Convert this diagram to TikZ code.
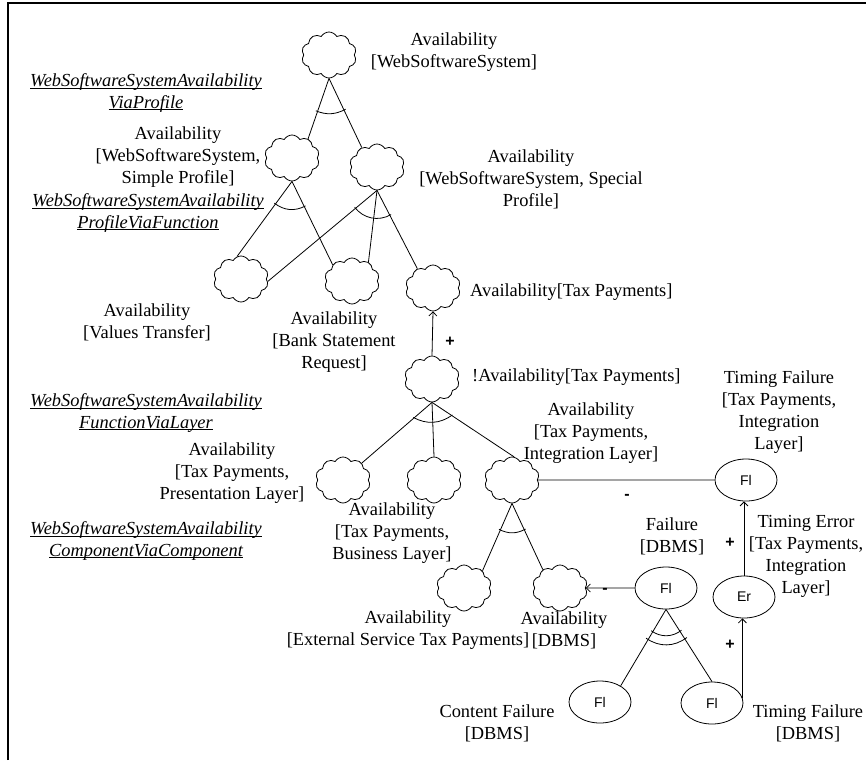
\documentclass[tikz,border=0pt]{standalone}
\usepackage{fontspec}
\setmainfont{Liberation Serif}
\newfontfamily\arialf{Liberation Sans}
\usetikzlibrary{shapes.symbols,shapes.geometric,arrows.meta,calc}
\newcommand\ulnm[1]{\underline{\raisebox{0pt}[\height][0pt]{#1}}}
\tikzset{
  goal/.style={cloud, draw, cloud puffs=10, cloud puff arc=120, cloud ignores aspect,
    minimum width=55pt, minimum height=46pt, inner sep=0pt, line width=0.8pt},
  fl/.style={ellipse, draw, minimum width=62pt, minimum height=42pt, inner sep=0pt,
    line width=0.8pt, font=\arialf\fontsize{14}{16}\selectfont},
  lbl/.style={align=center, inner sep=0pt, font=\fontsize{18.4}{22}\selectfont},
  ilbl/.style={align=center, inner sep=0pt, font=\itshape\fontsize{18.4}{21.5}\selectfont},
  sgn/.style={inner sep=0pt, font=\arialf\bfseries\fontsize{16}{16}\selectfont},
  conn/.style={line width=0.8pt},
  arr/.style={conn, -{Straight Barb[length=4pt,width=8pt]}},
  frame/.style={line width=1.3pt}
}
\begin{document}
\begin{tikzpicture}[x=1pt,y=1pt]
\useasboundingbox (0,0) rectangle (866,-760);
\draw[frame] (8,-760) -- (8,-3) -- (866,-3);

% clouds (softgoals)
\node[goal] (c1) at (329,-55) {};
\node[goal] (c2) at (292,-158) {};
\node[goal] (c3) at (377,-167) {};
\node[goal] (c4) at (241,-279) {};
\node[goal] (c5) at (352,-281) {};
\node[goal] (c6) at (433,-288) {};
\node[goal] (c7) at (432,-379) {};
\node[goal] (c8) at (343,-480) {};
\node[goal] (c9) at (434,-480) {};
\node[goal] (c10) at (512,-480) {};
\node[goal] (c11) at (464,-588) {};
\node[goal] (c12) at (560,-588) {};

% ellipses
\node[fl] (e1) at (746,-480) {Fl};
\node[fl] (e2) at (744,-597) {Er};
\node[fl] (e3) at (666,-588) {Fl};
\node[fl] (e4) at (600,-702) {Fl};
\node[fl] (e5) at (712,-703) {Fl};

% decomposition c1
\draw[conn] (c1.south) -- (c2.50);
\draw[conn] (c1.south) -- (c3.128);
\draw[conn] ($(c1.south)!35pt!-3:(c2.50)$) to[bend right=25] ($(c1.south)!35pt!3:(c3.128)$);
% decomposition c2
\draw[conn] (c2.south) -- (c4.100);
\draw[conn] (c2.south) -- (c5.140);
\draw[conn] ($(c2.south)!28pt!-3:(c4.100)$) to[bend right=33] ($(c2.south)!28pt!3:(c5.140)$);
% decomposition c3
\draw[conn] (c3.south) -- (c4.-5);
\draw[conn] (c3.south) -- (c5.49);
\draw[conn] (c3.south) -- (c6.129);
\draw[conn] ($(c3.south)!28pt!-3:(c4.-5)$) to[bend right=41] ($(c3.south)!28pt!3:(c6.129)$);
% contribution c7 -> c6
\draw[arr] (c7.north) -- (c6.south);
% decomposition c7
\draw[conn] (c7.south) -- (c8.42);
\draw[conn] (c7.south) -- (c9.north);
\draw[conn] (c7.south) -- (c10.85);
\draw[conn] ($(c7.south)!24pt!-2:(c8.42)$) to[bend right=32] ($(c7.south)!24pt!2:(c10.85)$);
% decomposition c10
\draw[conn] (c10.south) -- (c11.43);
\draw[conn] (c10.south) -- (c12.133);
\draw[conn] ($(c10.south)!29pt!-3:(c11.43)$) to[bend right=28] ($(c10.south)!29pt!3:(c12.133)$);
% e1 -- c10
\draw[conn] (c10.east) -- (e1.west);
% e3 -> c12
\draw[arr] (e3.west) -- (c12.east);
% decomposition e3
\draw[conn] (e3.south) -- (e4.38);
\draw[conn] (e3.south) -- (e5.north);
\draw[conn] ($(e3.south)!26pt!-4:(e4.38)$) to[bend right=36] ($(e3.south)!26pt!4:(e5.north)$);
\draw[conn] ($(e3.south)!35pt!-4:(e4.38)$) to[bend right=36] ($(e3.south)!35pt!4:(e5.north)$);
% e5 -> e2 -> e1
\draw[arr] (e5.10) -- (e5.10 |- e2.south);
\draw[arr] (e2.north) -- (e2.north |- e1.south);

% signs
\node[sgn] (s1) at (450,-342) {+};
\node[sgn] (s2) at (627,-497) {-};
\node[sgn] (s3) at (605,-591) {-};
\node[sgn] (s4) at (730,-543) {+};
\node[sgn] (s5) at (730,-645) {+};

% labels
\node[lbl] (t1) at (454,-52) {Availability\\{[}WebSoftwareSystem]};
\node[ilbl] (t2) at (146,-92) {\ulnm{WebSoftwareSystemAvailability}\\\ulnm{ViaProfile}};
\node[lbl] (t3) at (178,-157) {Availability\\{[}WebSoftwareSystem,\\Simple Profile]};
\node[ilbl] (t4) at (148,-212) {\ulnm{WebSoftwareSystemAvailability}\\\ulnm{ProfileViaFunction}};
\node[lbl] (t5) at (531,-179) {Availability\\{[}WebSoftwareSystem, Special\\Profile]};
\node[lbl, anchor=west] (t6) at (470,-292) {Availability[Tax Payments]};
\node[lbl] (t7) at (147,-322) {Availability\\{[}Values Transfer]};
\node[lbl] (t8) at (334,-342) {Availability\\{[}Bank Statement\\Request]};
\node[lbl, anchor=west] (t9) at (472,-377) {!Availability[Tax Payments]};
\node[ilbl] (t10) at (146,-412) {\ulnm{WebSoftwareSystemAvailability}\\\ulnm{FunctionViaLayer}};
\node[lbl] (t11) at (591,-433) {Availability\\{[}Tax Payments,\\Integration Layer]};
\node[lbl] (t12) at (779,-412) {Timing Failure\\{[}Tax Payments,\\Integration\\Layer]};
\node[lbl] (t13) at (232,-473) {Availability\\{[}Tax Payments,\\Presentation Layer]};
\node[lbl] (t14) at (392,-533) {Availability\\{[}Tax Payments,\\Business Layer]};
\node[ilbl] (t15) at (146,-540) {\ulnm{WebSoftwareSystemAvailability}\\\ulnm{ComponentViaComponent}};
\node[lbl] (t16) at (672,-536) {Failure\\{[}DBMS]};
\node[lbl] (t17) at (806,-556) {Timing Error\\{[}Tax Payments,\\Integration\\Layer]};
\node[lbl] (t18) at (408,-630) {Availability\\{[}External Service Tax Payments]};
\node[lbl] (t19) at (564,-630) {Availability\\{[}DBMS]};
\node[lbl] (t20) at (497,-723) {Content Failure\\{[}DBMS]};
\node[lbl] (t21) at (808,-723) {Timing Failure\\{[}DBMS]};
\end{tikzpicture}
\end{document}
